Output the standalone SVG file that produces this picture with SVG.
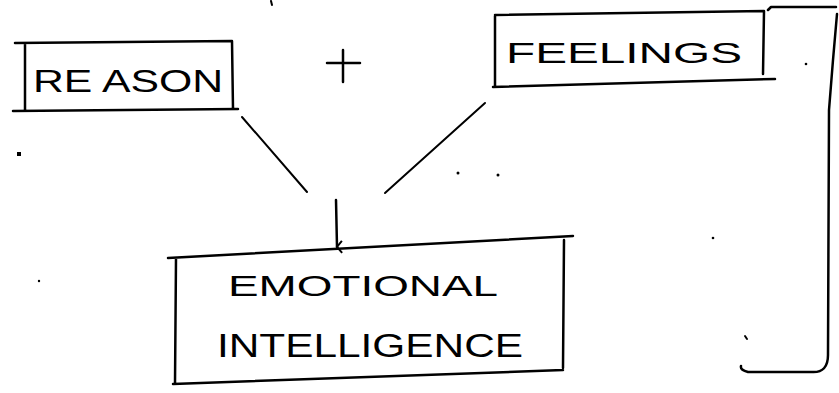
<svg xmlns="http://www.w3.org/2000/svg" width="839" height="393" viewBox="0 0 839 393">
<style>
.ln{fill:none;stroke:#000;stroke-width:2.5;stroke-linecap:round;stroke-linejoin:round}
.thin{fill:none;stroke:#000;stroke-width:2;stroke-linecap:round}
.lbl{font-family:"Liberation Sans",Arial,sans-serif;fill:#000;font-weight:normal}
</style>
<defs>
<marker id="ah" markerWidth="14" markerHeight="10" refX="7" refY="8" orient="auto" markerUnits="userSpaceOnUse">
<path d="M1,3 L7,8 L13,3" fill="none" stroke="#000" stroke-width="2"/>
</marker>
</defs>
<rect width="839" height="393" fill="#fff"/>
<g id="reason">
<path class="ln" d="M15,43 L232,41 L233,109 M25,43 L25,110 M13,111 L238,109"/>
<text class="lbl" x="33" y="92" font-size="32" textLength="190" lengthAdjust="spacingAndGlyphs">RE ASON</text>
</g>
<g id="plus">
<path class="ln" d="M327,63 L360,63 M343,50 L343,82"/>
</g>
<g id="feelings">
<path class="ln" d="M495,15 L764,11 L763,74 M495,16 L495,86 M493,87 L775,79"/>
<text class="lbl" x="506" y="63" font-size="30" textLength="236" lengthAdjust="spacingAndGlyphs">FEELINGS</text>
</g>
<g id="emotional">
<path class="ln" d="M168,258 L573,236 M176,258 L175,383 M564,240 L563,368 M173,384 L563,370"/>
<text class="lbl" x="228" y="296" font-size="30" textLength="270" lengthAdjust="spacingAndGlyphs">EMOTIONAL</text>
<text class="lbl" x="217" y="357" font-size="34" textLength="306" lengthAdjust="spacingAndGlyphs">INTELLIGENCE</text>
</g>
<g id="bracket">
<path class="ln" d="M768,10 L771,7 L836,7 M837,14 L833,60 L829,110 L828,355 Q828,373 812,372 L748,372 Q740,370 741,366"/>
</g>
<g id="connectors">
<path class="thin" d="M242,117 L307,192"/>
<path class="thin" d="M485,103 L385,193"/>
<path class="ln" d="M336,200 L337,247" marker-end="url(#ah)"/>
</g>
<g id="marks">
<rect x="17" y="152" width="4" height="4" fill="#000"/>
<circle cx="39" cy="281" r="1.2" fill="#000"/>
<circle cx="458" cy="173" r="1.5" fill="#000"/>
<circle cx="498" cy="175" r="1.5" fill="#000"/>
<circle cx="713" cy="238" r="1.3" fill="#000"/>
<circle cx="806" cy="64" r="1.3" fill="#000"/>
<path class="thin" d="M745,336 L747,339"/>
<path class="thin" d="M271,1 L272,5"/>
</g>
</svg>
